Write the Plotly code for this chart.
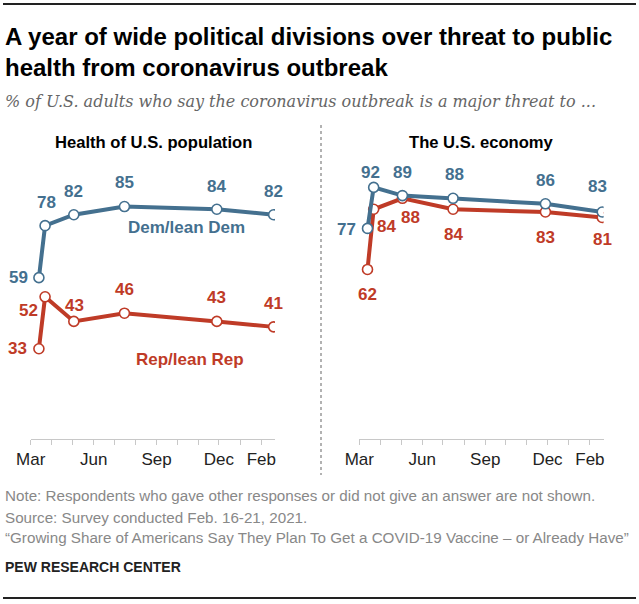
import plotly.graph_objects as go
from plotly.subplots import make_subplots

# survey field-period midpoints
dates = ["2020-03-13", "2020-03-22", "2020-05-03", "2020-07-16", "2020-11-28", "2021-02-19"]

health_dem = [59, 78, 82, 85, 84, 82]
health_rep = [33, 52, 43, 46, 43, 41]
econ_dem = [77, 92, 89, 88, 86, 83]
econ_rep = [62, 84, 88, 84, 83, 81]

month_ticks = ["2020-03-01", "2020-04-01", "2020-05-01", "2020-06-01", "2020-07-01",
               "2020-08-01", "2020-09-01", "2020-10-01", "2020-11-01", "2020-12-01",
               "2021-01-01", "2021-02-01"]
month_labels = ["Mar", "", "", "Jun", "", "", "Sep", "", "", "Dec", "", "Feb"]

panel_titles = ["Health of U.S. population", "The U.S. economy"]

# label offsets in pixels (dx, dy) for each value label
health_dem_off = [(-20, 0), (1, 23), (0, 23), (0, 24), (0, 23), (0, 23)]
health_rep_off = [(-21, 0), (-17, -14), (1, 16), (0, 24), (0, 24), (0, 23)]
econ_dem_off = [(-21, -1), (-3, 15), (0, 23), (1, 24), (0, 23), (-5, 26)]
econ_rep_off = [(0, -25), (13, -17), (8, -19), (0, -25), (0, -25), (0, -22)]

BLUE = "#44708F"
RED = "#BF3B27"
W, H = 639, 604
SANS = "Liberation Sans, Arial, sans-serif"


def px(x):
    return x / W


def py(y):
    return 1 - y / H


fig = make_subplots(rows=1, cols=2)

panels = [
    (1, health_dem, health_rep, health_dem_off, health_rep_off),
    (2, econ_dem, econ_rep, econ_dem_off, econ_rep_off),
]

annotations = []
for col, dem, rep, dem_off, rep_off in panels:
    for values, color in [(rep, RED), (dem, BLUE)]:
        fig.add_trace(
            go.Scatter(
                x=dates, y=values, mode="lines+markers",
                line=dict(color=color, width=4),
                marker=dict(size=10, color="white", line=dict(color=color, width=1.6)),
                hoverinfo="skip", showlegend=False,
            ),
            row=1, col=col,
        )
    suffix = "" if col == 1 else "2"
    for values, offs, color in [(dem, dem_off, BLUE), (rep, rep_off, RED)]:
        for d, v, (dx, dy) in zip(dates, values, offs):
            annotations.append(dict(
                x=d, y=v, xref="x" + suffix, yref="y" + suffix,
                text=str(v), showarrow=False, xshift=dx, yshift=dy,
                font=dict(family=SANS, size=17, color=color, weight="bold"),
            ))

fig.update_xaxes(
    range=["2020-03-01", "2021-02-21"], tickvals=month_ticks, ticktext=month_labels,
    showline=True, linecolor="#c8c8c8", linewidth=1, ticks="outside", ticklen=5,
    tickcolor="#c8c8c8", showgrid=False, zeroline=False, automargin=False,
    tickfont=dict(family=SANS, size=17, color="#222"),
)
fig.update_yaxes(range=[0, 100], visible=False, automargin=False, domain=[py(439), py(165.5)])
fig.layout.xaxis.domain = [px(30.7), px(275)]
fig.layout.xaxis2.domain = [px(359.3), px(603.6)]

# titles and notes
texts = [
    ("A year of wide political divisions over threat to public<br>"
     "health from coronavirus outbreak", 3, 52, 24, SANS, "#000", "bold", "normal"),
    ("% of U.S. adults who say the coronavirus outbreak is a major threat to ...",
     3, 102, 16, "DejaVu Serif, Georgia, serif", "#666", "normal", "italic"),
    ("Note: Respondents who gave other responses or did not give an answer are not shown.",
     3, 495, 15.2, SANS, "#888", "normal", "normal"),
    ("Source: Survey conducted Feb. 16-21, 2021.", 3, 517, 15.2, SANS, "#888", "normal", "normal"),
    ("\u201cGrowing Share of Americans Say They Plan To Get a COVID-19 Vaccine \u2013 or Already Have\u201d",
     3, 537, 15.2, SANS, "#888", "normal", "normal"),
    ("PEW RESEARCH CENTER", 3, 567, 14, SANS, "#222", "bold", "normal"),
]
for text, x, y, size, family, color, weight, style in texts:
    annotations.append(dict(
        x=px(x), y=py(y), xref="paper", yref="paper", text=text, showarrow=False,
        xanchor="left", yanchor="middle", align="left",
        font=dict(family=family, size=size, color=color, weight=weight, style=style),
    ))

for title, cx in zip(panel_titles, [153, 481]):
    annotations.append(dict(
        x=px(cx), y=py(143), xref="paper", yref="paper", text=title, showarrow=False,
        xanchor="center", yanchor="middle",
        font=dict(family=SANS, size=16.6, color="#000", weight="bold"),
    ))

for text, cx, cy, color in [("Dem/lean Dem", 186, 228, BLUE), ("Rep/lean Rep", 190, 359, RED)]:
    annotations.append(dict(
        x=px(cx), y=py(cy), xref="paper", yref="paper", text=text, showarrow=False,
        xanchor="center", yanchor="middle",
        font=dict(family=SANS, size=17, color=color, weight="bold"),
    ))

shapes = [
    dict(type="line", xref="paper", yref="paper", x0=px(3), x1=px(636), y0=py(4), y1=py(4),
         line=dict(color="#222", width=2)),
    dict(type="line", xref="paper", yref="paper", x0=px(3), x1=px(636), y0=py(598), y1=py(598),
         line=dict(color="#222", width=2)),
    dict(type="line", xref="paper", yref="paper", x0=px(321), x1=px(321), y0=py(125), y1=py(475),
         line=dict(color="#999", width=1.5, dash="dot")),
]

fig.update_layout(
    width=W, height=H, margin=dict(l=0, r=0, t=0, b=0, pad=0, autoexpand=False),
    paper_bgcolor="white", plot_bgcolor="white",
    annotations=annotations, shapes=shapes,
)

fig.write_html(
    "out.html",
    config={"displayModeBar": False},
    post_script="document.body.style.margin = '0';",
)
